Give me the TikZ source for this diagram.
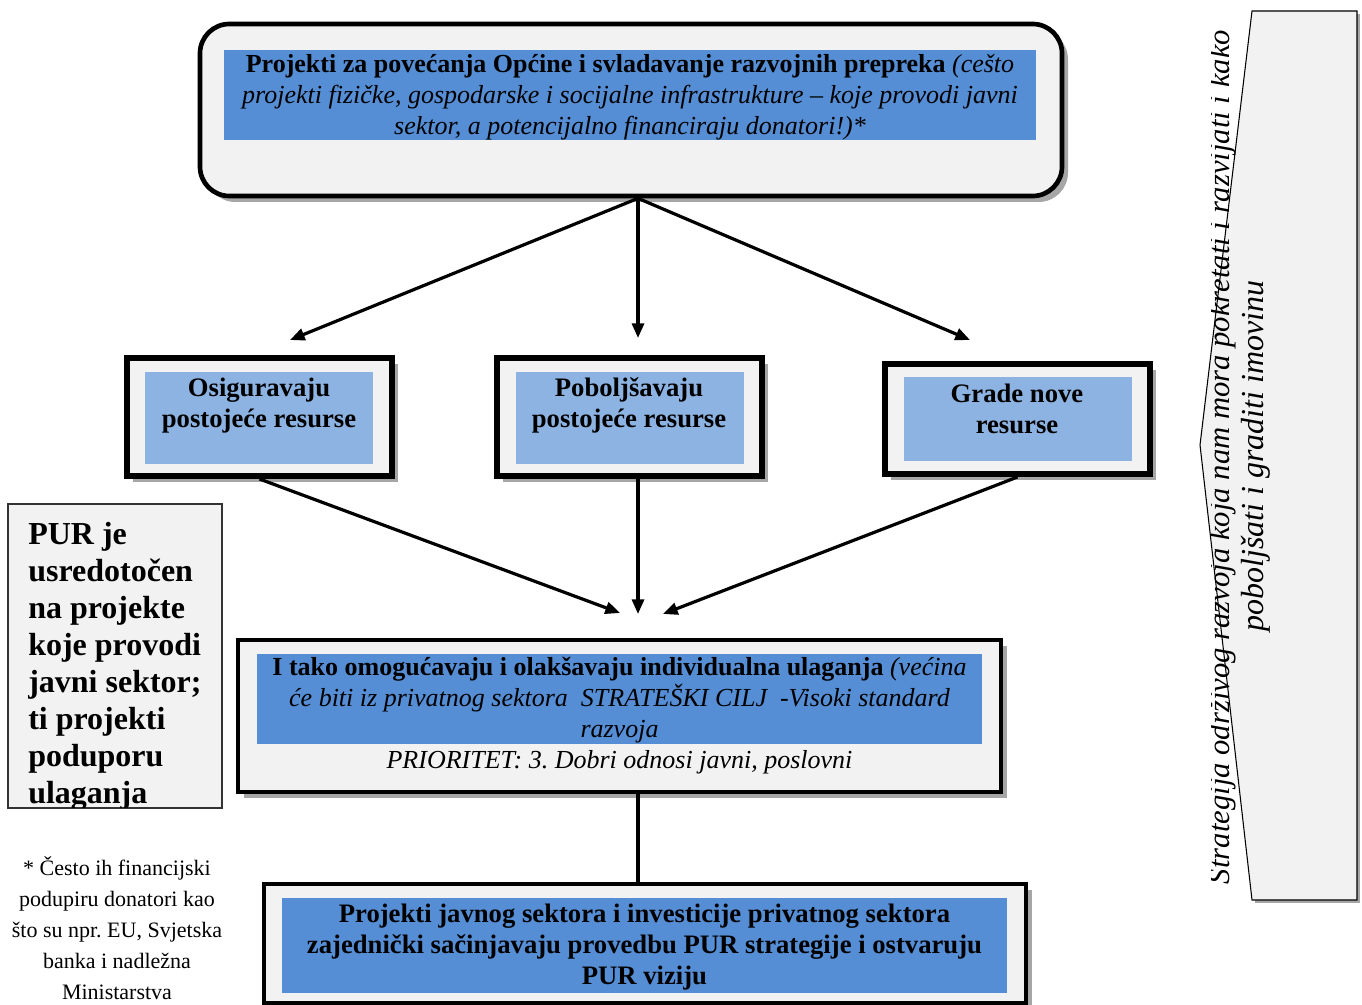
\documentclass[tikz,border=0pt]{standalone}
\usepackage{fontspec}
\setmainfont{Liberation Serif}
\usetikzlibrary{arrows.meta,calc}
\definecolor{boxgray}{HTML}{F2F2F2}
\definecolor{darkblue}{HTML}{558ED5}
\definecolor{lightblue}{HTML}{8DB3E2}
\definecolor{shadowgray}{HTML}{A6A6A6}
\tikzset{
  outerbox/.style={draw=black, line width=3.5pt, fill=boxgray, inner sep=0pt},
  innerdark/.style={fill=darkblue, inner sep=0pt},
  innerlight/.style={fill=lightblue, inner sep=0pt},
  txt/.style={align=center, inner sep=0pt},
  arr/.style={line width=2.4pt, -{Triangle[length=11pt,width=9pt]}},
  conn/.style={line width=2.4pt}
}
\begin{document}
\frenchspacing
\begin{tikzpicture}[x=0.75pt,y=-0.75pt]
\useasboundingbox (0,0) rectangle (1362,1005);
% ---------- right pentagon ----------
\fill[shadowgray] (1255,14) -- (1360,14) -- (1360,903) -- (1255,903) -- cycle;
\draw[fill=boxgray, line width=0.8pt] (1252,11) -- (1357,11) -- (1357,900) -- (1252,900) -- (1200,445) -- cycle;
\begin{scope}
  \clip (1211,0) rectangle (1362,1005);
  \node[rotate=90, anchor=base, inner sep=0pt, font=\fontsize{23}{27}\selectfont\itshape] (clipt) at (1229,457) {Strategija održivog razvoja koja nam mora pokretati i razvijati i kako};
\end{scope}
\node[rotate=90, anchor=base, inner sep=0pt, font=\fontsize{24}{28}\selectfont\itshape] (rightt) at (1263,456) {poboljšati i graditi imovinu};
% ---------- top box ----------
\fill[shadowgray, rounded corners=22pt] (206,30) rectangle (1068,202);
\node[outerbox, rounded corners=22pt, minimum width=646.5pt, minimum height=129pt] (top) at (631,110) {};
\node[innerdark, minimum width=609pt, minimum height=67.5pt] (topin) at (630,95) {};
\node[txt, font=\fontsize{19.5}{23.25}\selectfont] (toptxt) at (630,97)
 {\textbf{Projekti za povećanja Općine i svladavanje razvojnih prepreka} \textit{(cešto}\\
  \textit{projekti fizičke, gospodarske i socijalne infrastrukture – koje provodi javni}\\
  \textit{sektor, a potencijalno financiraju donatori!)*}};
% ---------- middle boxes ----------
\fill[shadowgray] (133,364) rectangle (398,482);
\node[outerbox, line width=4.5pt, minimum width=198.75pt, minimum height=88.5pt] (b1) at (259.5,417) {};
\node[innerlight, minimum width=171pt, minimum height=69pt] (b1in) at (259,418) {};
\node[txt, font=\fontsize{20}{23.25}\selectfont\bfseries] (b1t) at (259,405.5) {Osiguravaju\\postojeće resurse};
\fill[shadowgray] (503,364) rectangle (768,482);
\node[outerbox, line width=4.5pt, minimum width=198.75pt, minimum height=88.5pt] (b2) at (629.5,417) {};
\node[innerlight, minimum width=171pt, minimum height=69pt] (b2in) at (630,418) {};
\node[txt, font=\fontsize{20}{23.25}\selectfont\bfseries] (b2t) at (629,405.5) {Poboljšavaju\\postojeće resurse};
\fill[shadowgray] (891,370) rectangle (1156,480);
\node[outerbox, line width=4.5pt, minimum width=198.75pt, minimum height=82.5pt] (b3) at (1017.5,419) {};
\node[innerlight, minimum width=171pt, minimum height=63pt] (b3in) at (1018,419) {};
\node[txt, font=\fontsize{20}{23.25}\selectfont\bfseries] (b3t) at (1017,409) {Grade nove\\resurse};
% ---------- box 4 ----------
\fill[shadowgray] (244,646) rectangle (1007,798);
\node[outerbox, minimum width=572.25pt, minimum height=114pt] (b4) at (619.5,716) {};
\node[innerdark, minimum width=543.75pt, minimum height=67.5pt] (b4in) at (619.5,699) {};
\node[txt, font=\fontsize{19.5}{23.25}\selectfont] (b4t) at (619.5,716)
 {\textbf{I tako omogućavaju i olakšavaju individualna ulaganja} \textit{(većina}\\
  \textit{će biti iz privatnog sektora\ \ STRATEŠKI CILJ\ \ -Visoki standard}\\
  \textit{razvoja}\\
  \textit{PRIORITET: 3. Dobri odnosi javni, poslovni}};
% ---------- box 5 ----------
\fill[shadowgray] (270,890) rectangle (1032,1010);
\node[outerbox, minimum width=571.5pt, minimum height=89.25pt] (b5) at (645,943.5) {};
\node[innerdark, minimum width=543.75pt, minimum height=71.25pt] (b5in) at (644.5,945.5) {};
\node[txt, font=\fontsize{20}{23.25}\selectfont\bfseries] (b5t) at (644.5,947.5)
 {Projekti javnog sektora i investicije privatnog sektora\\zajednički sačinjavaju provedbu PUR strategije i ostvaruju\\PUR viziju};
% ---------- left box ----------
\node[draw=black!80, line width=0.8pt, fill=boxgray, minimum width=160.5pt, minimum height=228pt, inner sep=0pt] (pur) at (115,656) {};
\begin{scope}
  \clip (9,505) rectangle (221,807);
  \node[anchor=north west, align=left, inner sep=0pt, font=\fontsize{24}{27.75}\selectfont\bfseries] (purt) at (28,522)
   {PUR je\\usredotočen\\na projekte\\koje provodi\\javni sektor;\\ti projekti\\poduporu\\ulaganja};
\end{scope}
% ---------- footnote ----------
\node[anchor=north, align=center, inner sep=0pt, font=\fontsize{16.5}{23.25}\selectfont] (foot) at (117,856)
 {* Često ih financijski\\podupiru donatori kao\\što su npr. EU, Svjetska\\banka i nadležna\\Ministarstva};
% ---------- connectors ----------
\coordinate (mid) at (638,0);
\coordinate (e1) at (290,340);
\coordinate (e2) at (638,338);
\coordinate (e3) at (970,340);
\coordinate (f1) at (620,613);
\coordinate (f2) at (638,614);
\coordinate (f3) at (663,614);
\draw[arr] (top.south -| mid) -- (e1);
\draw[arr] (top.south -| mid) -- (e2);
\draw[arr] (top.south -| mid) -- (e3);
\draw[arr] (b1.south) -- (f1);
\draw[arr] (b2.south -| mid) -- (f2);
\draw[arr] (b3.south) -- (f3);
\draw[conn] (b4.south -| mid) -- (b5.north -| mid);
\end{tikzpicture}
\end{document}
